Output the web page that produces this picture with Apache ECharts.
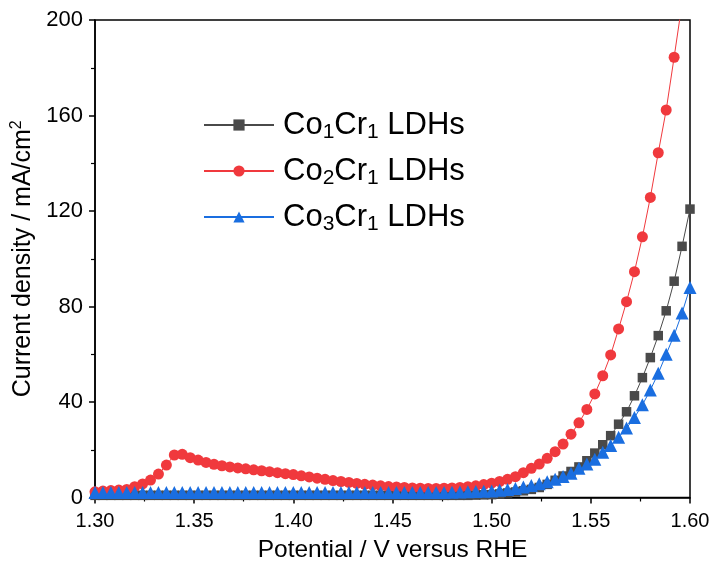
<!DOCTYPE html>
<html><head><meta charset="utf-8">
<script src="https://cdn.jsdelivr.net/npm/echarts@6/dist/echarts.min.js"></script>
<style>html,body{margin:0;padding:0;background:#fff}#c{width:710px;height:563px}</style>
</head><body><div id="c"></div>
<script>
const potential = [1.300,1.304,1.308,1.312,1.316,1.320,1.324,1.328,1.332,1.336,1.340,1.344,1.348,1.352,1.356,1.360,1.364,1.368,1.372,1.376,1.380,1.384,1.388,1.392,1.396,1.400,1.404,1.408,1.412,1.416,1.420,1.424,1.428,1.432,1.436,1.440,1.444,1.448,1.452,1.456,1.460,1.464,1.468,1.472,1.476,1.480,1.484,1.488,1.492,1.496,1.500,1.504,1.508,1.512,1.516,1.520,1.524,1.528,1.532,1.536,1.540,1.544,1.548,1.552,1.556,1.560,1.564,1.568,1.572,1.576,1.580,1.584,1.588,1.592,1.596,1.600];
const co1cr1 = [0.9,0.9,0.9,0.9,0.9,0.9,0.9,0.9,0.9,0.9,0.9,0.9,0.9,0.9,0.9,0.9,0.9,0.9,0.9,0.9,0.9,0.9,0.9,0.9,0.9,0.9,0.9,0.9,0.9,0.9,0.9,0.9,0.9,0.9,0.9,0.9,0.9,0.9,0.9,0.9,0.9,0.9,0.9,0.9,0.9,0.9,0.9,0.9,1.0,1.1,1.2,1.5,1.9,2.3,2.8,3.4,4.2,5.5,7.2,9.0,10.9,12.8,15.4,18.6,22.1,25.9,30.7,35.9,42.6,50.2,58.6,67.8,78.2,90.6,105.2,120.8];
const co2cr1 = [2.4,2.7,2.9,3.1,3.4,4.5,5.7,7.3,9.8,13.6,17.8,18.1,16.7,15.7,14.7,13.9,13.3,12.8,12.4,12.0,11.6,11.2,10.8,10.4,10.0,9.6,9.1,8.6,8.1,7.6,7.1,6.7,6.3,5.9,5.5,5.2,4.9,4.6,4.4,4.2,4.0,3.9,3.8,3.8,3.9,4.0,4.2,4.5,4.9,5.4,6.0,6.7,7.6,8.7,10.4,12.2,14.0,16.4,19.2,22.4,26.5,31.3,36.9,43.4,51.0,59.7,70.6,82.0,94.6,109.2,125.7,144.4,162.3,184.4,207.0,232.0];
const co3cr1 = [2.1,2.1,2.1,2.1,2.1,2.1,2.1,2.1,2.1,2.1,2.1,2.1,2.1,2.1,2.1,2.1,2.1,2.1,2.1,2.1,2.1,2.1,2.1,2.1,2.1,2.1,2.1,2.1,2.1,2.1,2.1,2.1,2.1,2.1,2.1,2.1,2.1,2.1,2.1,2.1,2.1,2.1,2.1,2.1,2.1,2.2,2.3,2.4,2.5,2.6,2.7,3.0,3.4,3.8,4.4,5.0,5.8,6.6,7.6,8.8,10.2,12.2,14.0,16.0,19.0,21.8,25.2,29.1,33.5,38.8,45.0,52.0,60.0,68.0,77.3,88.0];
const seriesNames = ['Co1Cr1 LDHs','Co2Cr1 LDHs','Co3Cr1 LDHs'];
const legendRich = {
  'Co1Cr1 LDHs': '{g|}{n|Co}{s|1}{n|Cr}{s|1}{n| LDHs}',
  'Co2Cr1 LDHs': '{g|}{n|Co}{s|2}{n|Cr}{s|1}{n| LDHs}',
  'Co3Cr1 LDHs': '{g|}{n|Co}{s|3}{n|Cr}{s|1}{n| LDHs}'
};
const xTicks = {min:1.30, max:1.60, interval:0.05};
const yTicks = {min:0, max:200, interval:40};

function pairs(ys){ return potential.map((x,i)=>[x, ys[i]]); }
const FONT = '"Liberation Sans", Arial, sans-serif';
const chart = echarts.init(document.getElementById('c'), null, {renderer:'canvas'});
chart.setOption({
  animation:false,
  backgroundColor:'#fff',
  textStyle:{fontFamily:FONT},
  grid:{left:95,right:20,top:20,bottom:65.5,containLabel:false,outerBoundsMode:'none',show:true,borderColor:'#000',borderWidth:1.5,backgroundColor:'transparent'},
  legend:{
    orient:'vertical', left:198, top:104, itemWidth:70, itemHeight:14, itemGap:12,
    data:seriesNames,
    formatter:(name)=>legendRich[name],
    textStyle:{color:'#000', fontFamily:FONT, rich:{
      g:{width:4},
      n:{fontSize:31, color:'#000', fontFamily:FONT, lineHeight:36},
      s:{fontSize:21, color:'#000', fontFamily:FONT, lineHeight:36, verticalAlign:'bottom', padding:[13,0,0,0]}
    }}
  },
  xAxis:{
    type:'value', min:xTicks.min, max:xTicks.max, interval:xTicks.interval,
    name:'Potential / V versus RHE', nameLocation:'middle', nameGap:40,
    nameTextStyle:{fontSize:24.5, color:'#000', fontFamily:FONT},
    axisLine:{show:true, onZero:false, lineStyle:{color:'#000', width:1.5}},
    axisTick:{show:true, inside:false, length:6, lineStyle:{color:'#000', width:1.5}},
    minorTick:{show:true, splitNumber:2, length:4, lineStyle:{color:'#000', width:1.2}},
    axisLabel:{fontSize:20, color:'#000', margin:14, fontFamily:FONT, formatter:(v)=>v.toFixed(2)},
    splitLine:{show:false}
  },
  yAxis:{
    type:'value', min:yTicks.min, max:yTicks.max, interval:yTicks.interval,
    name:'{a|Current density / mA/cm}{b|2}', nameLocation:'middle', nameGap:47, nameRotate:90,
    nameTextStyle:{color:'#000', fontFamily:FONT, rich:{
      a:{fontSize:25, color:'#000', fontFamily:FONT, lineHeight:28},
      b:{fontSize:16, color:'#000', fontFamily:FONT, lineHeight:28, verticalAlign:'top', padding:[0,0,10,0]}
    }},
    axisLine:{show:true, onZero:false, lineStyle:{color:'#000', width:1.5}},
    axisTick:{show:true, inside:false, length:6, lineStyle:{color:'#000', width:1.5}},
    minorTick:{show:true, splitNumber:2, length:4, lineStyle:{color:'#000', width:1.2}},
    axisLabel:{fontSize:22, color:'#000', margin:12, fontFamily:FONT},
    splitLine:{show:false}
  },
  series:[
    {name:seriesNames[0], type:'line', data:pairs(co1cr1), symbol:'rect', symbolSize:9.5,
     itemStyle:{color:'#4a4a4a'}, lineStyle:{color:'#4a4a4a', width:1}, clip:true},
    {name:seriesNames[1], type:'line', data:pairs(co2cr1), symbol:'circle', symbolSize:11,
     itemStyle:{color:'#f0393d'}, lineStyle:{color:'#f0393d', width:1}, clip:true},
    {name:seriesNames[2], type:'line', data:pairs(co3cr1), symbol:'triangle', symbolSize:13,
     itemStyle:{color:'#1a6ee0'}, lineStyle:{color:'#1a6ee0', width:1}, clip:true}
  ]
});
</script></body></html>
